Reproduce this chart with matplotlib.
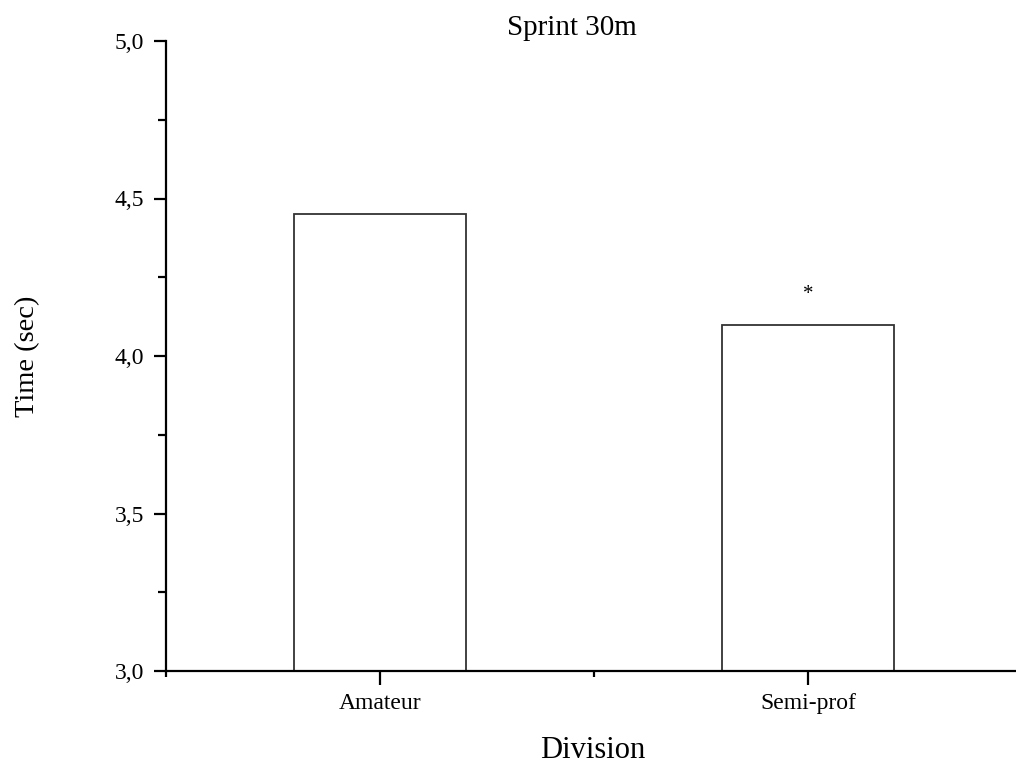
import matplotlib
matplotlib.use("Agg")
import matplotlib.pyplot as plt
from matplotlib.ticker import FixedLocator, FuncFormatter

divisions = ["Amateur", "Semi-prof"]
sprint_time = [4.45, 4.10]
significant = [False, True]
y_ticks = [3.0, 3.5, 4.0, 4.5, 5.0]

plt.rcParams["font.family"] = ["Liberation Serif", "DejaVu Serif"]

fig = plt.figure(figsize=(10.16, 7.65), dpi=100)
ax = fig.add_axes([166 / 1016, 94 / 765, (1022 - 166) / 1016, 630 / 765])

xs = list(range(1, len(divisions) + 1))
ax.bar(xs, sprint_time, width=0.4, color="white",
       edgecolor="#333333", linewidth=1.3)
for x, y, sig in zip(xs, sprint_time, significant):
    if sig:
        ax.text(x, y + 0.095, "*", ha="center", va="center", fontsize=15)

ax.set_xlim(0.5, 2.5)
ax.set_ylim(3.0, 5.0)
ax.set_xticks(xs)
ax.set_xticklabels(divisions, fontsize=17)
ax.xaxis.set_minor_locator(FixedLocator([0.5, 1.5, 2.5]))
ax.set_yticks(y_ticks)
ax.yaxis.set_major_formatter(FuncFormatter(lambda v, _: f"{v:.1f}".replace(".", ",")))
ax.yaxis.set_minor_locator(FixedLocator([3.25, 3.75, 4.25, 4.75]))
ax.tick_params(axis="y", labelsize=17)

for side in ("top", "right"):
    ax.spines[side].set_visible(False)
for side in ("left", "bottom"):
    ax.spines[side].set_linewidth(1.6)
ax.tick_params(axis="y", which="major", direction="out", length=9, width=1.6, pad=7)
ax.tick_params(axis="y", which="minor", direction="out", length=6, width=1.6)
ax.tick_params(axis="x", which="major", direction="out", length=10, width=1.6, pad=6)
ax.tick_params(axis="x", which="minor", direction="out", length=4, width=1.6)

ax.set_xlabel("Division", fontsize=22)
ax.xaxis.set_label_coords(0.499, -0.103)
ax.set_ylabel("Time (sec)", fontsize=20.5)
ax.yaxis.set_label_coords(-0.147, 0.5)
fig.text(572 / 1016, 1 - 28 / 765, "Sprint 30m", ha="center", va="center",
         fontsize=21)

fig.savefig("out.png", dpi=100)
